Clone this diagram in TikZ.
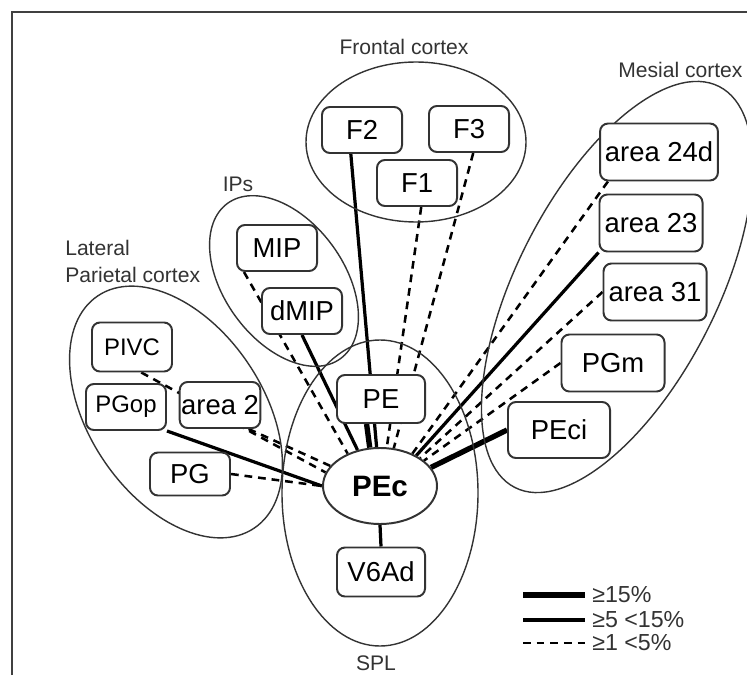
\documentclass[tikz,border=0pt]{standalone}
\usepackage{fontspec}
\setmainfont{Liberation Sans}
\usetikzlibrary{shapes, positioning, backgrounds}

\begin{document}
\begin{tikzpicture}[x=0.025cm, y=-0.025cm,
    area/.style={draw=black!80, line width=1.4pt, rounded corners=0.2cm, fill=white,
                 minimum width=2cm, minimum height=1.15cm, inner xsep=1pt,
                 font=\fontsize{19.5}{22}\selectfont},
    bigarea/.style={area, minimum width=2.575cm, minimum height=1.425cm, inner xsep=0.12cm},
    region/.style={draw=black!80, line width=1pt},
    rlabel/.style={font=\fontsize{15}{19}\selectfont, text=black!80, inner sep=0pt},
    strong/.style={line width=3.8pt},
    medium/.style={line width=2.3pt},
    weak/.style={line width=1.8pt, dash pattern=on 5.5pt off 4.2pt}
]
  \useasboundingbox (0,0) rectangle (747,675);
  \draw[black!75, line width=1pt] (12,675) -- (12,12) -- (747,12);

  % regions
  \draw[region] (416,142) ellipse [x radius=110, y radius=80];
  \draw[region, rotate around={-54:(284,281)}] (284,281) ellipse [x radius=96, y radius=60];
  \draw[region, rotate around={-56:(176,412)}] (176,412) ellipse [x radius=140, y radius=87];
  \draw[region, rotate around={63:(617,287)}] (617,287) ellipse [x radius=225, y radius=100];
  \draw[region] (380,493) ellipse [x radius=98, y radius=153];

  \node[rlabel] (frontal) at (404,47) {Frontal cortex};
  \node[rlabel, anchor=west] (mesial) at (618,70) {Mesial cortex};
  \node[rlabel] (ips) at (238,184) {IPs};
  \node[rlabel, anchor=north west, align=left] (lateral) at (65,240) {Lateral\\Parietal cortex};
  \node[rlabel] (spl) at (376,663) {SPL};

  % areas
  \node[area] (f2) at (362,130) {F2};
  \node[area] (f1) at (417,183) {F1};
  \node[area] (f3) at (469,129) {F3};
  \node[area] (mip) at (277,248) {MIP};
  \node[area] (dmip) at (302,311) {dMIP};
  \node[area, font=\fontsize{17}{20}\selectfont, minimum height=1.225cm] (pivc) at (132,347) {PIVC};
  \node[area, font=\fontsize{17}{20}\selectfont] (pgop) at (126,407) {PGop};
  \node[area] (area2) at (220,405) {area 2};
  \node[area, minimum height=1.075cm] (pg) at (190,474) {PG};
  \node[area, minimum width=2.2cm, minimum height=1.2cm] (pe) at (381,399) {PE};
  \node[area, minimum width=2.2cm, minimum height=1.225cm] (v6ad) at (381,572) {V6Ad};
  \node[bigarea] (a24d) at (659,152) {area 24d};
  \node[bigarea] (a23) at (651,223) {area 23};
  \node[bigarea] (a31) at (655,292) {area 31};
  \node[bigarea] (pgm) at (613,363) {PGm};
  \node[bigarea, minimum width=2.55cm, minimum height=1.4cm] (peci) at (559,430) {PEci};
  \node[ellipse, draw=black!80, fill=white, line width=1.4pt, minimum width=2.85cm,
        minimum height=1.9cm, font=\bfseries\fontsize{21}{24}\selectfont] (pec) at (380,486) {PEc};

  % connections
  \begin{scope}[on background layer, black!90]
    \foreach \a/\b in {pivc.-70/pec.166, area2.-40/pec.158, pg.east/pec.west,
                       mip.-144/pec.135, f1.-80/pec.80, f3.-80/pec.70,
                       a24d.-150/pec.45, a31.west/pec.35, pgm.west/pec.30}
      \draw[weak] (\a) -- (\b);
    \foreach \a/\b in {pgop.south east/pec.west, dmip.south/pec.122, f2.-115/pec.95,
                       a23.south west/pec.40, pec.south/v6ad.north}
      \draw[medium] (\a) -- (\b);
    \foreach \a/\b in {pe.-120/pec.105, peci.west/pec.20}
      \draw[strong] (\a) -- (\b);
  \end{scope}

  % legend
  \node[rlabel, font=\fontsize{16.5}{19}\selectfont, anchor=west] (leg1) at (592,595) {≥15\%};
  \node[rlabel, font=\fontsize{16.5}{19}\selectfont, anchor=west] (leg2) at (592,620) {≥5 <15\%};
  \node[rlabel, font=\fontsize{16.5}{19}\selectfont, anchor=west] (leg3) at (592,643) {≥1 <5\%};
  \coordinate (l1a) at (523,595); \coordinate (l1b) at (585,595);
  \coordinate (l2a) at (523,620); \coordinate (l2b) at (585,620);
  \coordinate (l3a) at (523,643); \coordinate (l3b) at (585,643);
  \draw[strong, line width=4.5pt] (l1a) -- (l1b);
  \draw[medium, line width=3.2pt] (l2a) -- (l2b);
  \draw[weak, line width=2pt] (l3a) -- (l3b);
\end{tikzpicture}
\end{document}
